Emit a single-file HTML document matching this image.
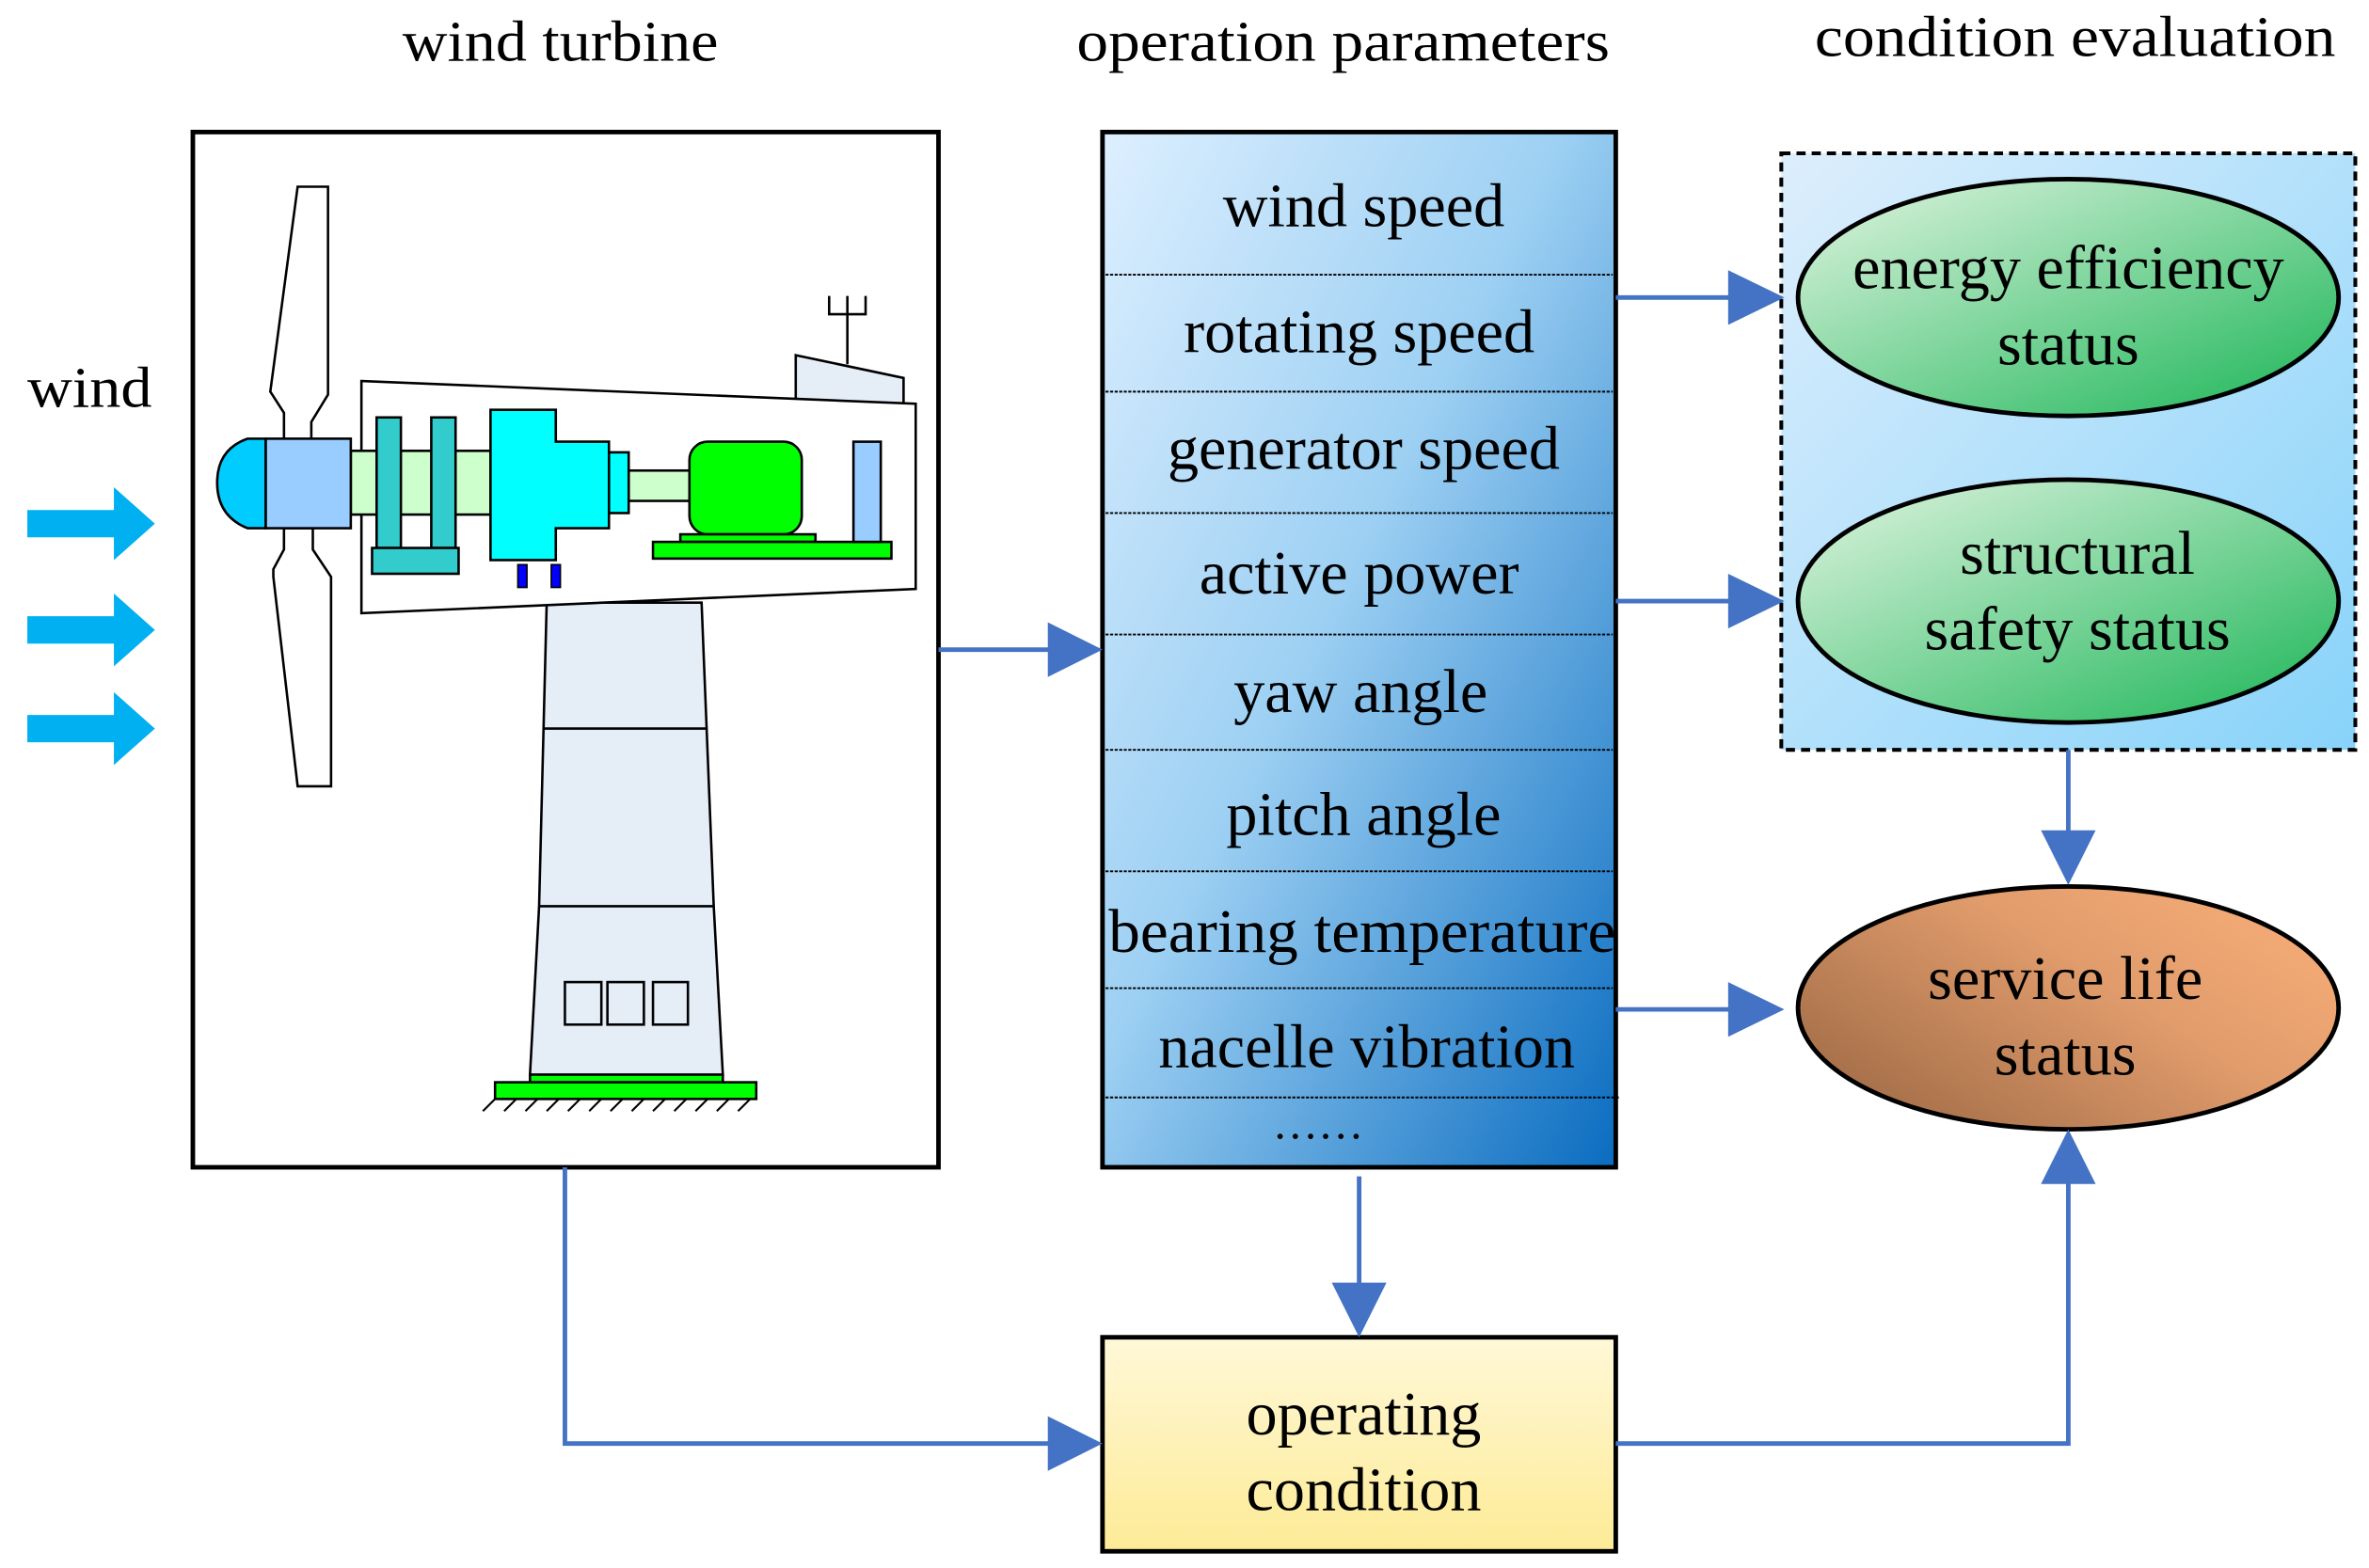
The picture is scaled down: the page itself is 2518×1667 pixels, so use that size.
<!DOCTYPE html>
<html><head><meta charset="utf-8"><style>html,body{margin:0;padding:0;background:#fff}svg{display:block}</style></head><body>
<svg width="2518" height="1667" viewBox="0 0 1560 1033" preserveAspectRatio="none" xmlns="http://www.w3.org/2000/svg" font-family="Liberation Serif, serif">
<defs>
<linearGradient id="gp" x1="0" y1="0" x2="1" y2="1"><stop offset="0" stop-color="#DDEFFF"/><stop offset="0.45" stop-color="#9DD0F3"/><stop offset="1" stop-color="#0A6CC0"/></linearGradient>
<linearGradient id="gd" x1="0" y1="0" x2="1" y2="1"><stop offset="0" stop-color="#DDEEFC"/><stop offset="1" stop-color="#88D3FA"/></linearGradient>
<linearGradient id="gg" x1="0" y1="0" x2="1" y2="1"><stop offset="0" stop-color="#E2F5E2"/><stop offset="1" stop-color="#1AB556"/></linearGradient>
<linearGradient id="gb" x1="0" y1="0.85" x2="1" y2="0.15"><stop offset="0" stop-color="#9E6A45"/><stop offset="0.6" stop-color="#E19C6C"/><stop offset="1" stop-color="#F7AD78"/></linearGradient>
<linearGradient id="gy" x1="0" y1="0" x2="0" y2="1"><stop offset="0" stop-color="#FFF8D8"/><stop offset="1" stop-color="#FDEB96"/></linearGradient>
</defs>
<g font-size="38" fill="#000">
<text x="265" y="40" textLength="208" lengthAdjust="spacingAndGlyphs">wind turbine</text>
<text x="709" y="40" textLength="351" lengthAdjust="spacingAndGlyphs">operation parameters</text>
<text x="1195" y="37" textLength="343" lengthAdjust="spacingAndGlyphs">condition evaluation</text>
<text x="18" y="268" textLength="82" lengthAdjust="spacingAndGlyphs">wind</text>
</g>
<g fill="#00B0F0">
<polygon points="18,336 75,336 75,321 102,345 75,369 75,354 18,354"/>
<polygon points="18,406 75,406 75,391 102,415 75,439 75,424 18,424"/>
<polygon points="18,471 75,471 75,456 102,480 75,504 75,489 18,489"/>
</g>
<rect x="127" y="87" width="491" height="682" fill="#fff" stroke="#000" stroke-width="3"/>
<g stroke="#000" stroke-width="1.6">
<polygon points="360,397 462,397 470,597 476,708 349,708 355,597" fill="#E5EDF7"/>
<line x1="358" y1="480" x2="466" y2="480"/>
<line x1="355" y1="597" x2="470" y2="597"/>
<rect x="372" y="647" width="24" height="28" fill="none"/>
<rect x="400" y="647" width="24" height="28" fill="none"/>
<rect x="430" y="647" width="23" height="28" fill="none"/>
<rect x="349" y="708" width="127" height="5" fill="#00FF00"/>
<rect x="326" y="713" width="172" height="11" fill="#00FF00"/>
</g>
<g stroke="#000" stroke-width="1.3">
<line x1="326" y1="724" x2="318" y2="732"/><line x1="340" y1="724" x2="332" y2="732"/><line x1="354" y1="724" x2="346" y2="732"/><line x1="368" y1="724" x2="360" y2="732"/><line x1="382" y1="724" x2="374" y2="732"/><line x1="396" y1="724" x2="388" y2="732"/><line x1="410" y1="724" x2="402" y2="732"/><line x1="424" y1="724" x2="416" y2="732"/><line x1="438" y1="724" x2="430" y2="732"/><line x1="452" y1="724" x2="444" y2="732"/><line x1="466" y1="724" x2="458" y2="732"/><line x1="480" y1="724" x2="472" y2="732"/><line x1="494" y1="724" x2="486" y2="732"/>
</g>
<g stroke="#000" stroke-width="1.6">
<polygon points="196,123 216,123 216,260 205,278 205,290 187,290 187,272 178,258" fill="#fff"/>
<polygon points="187,348 206,348 206,362 218,380 218,518 196,518 180,380 180,375 187,362" fill="#fff"/>
<polygon points="524,234 595,249 595,266 524,263" fill="#E5EDF7"/>
<line x1="558" y1="195" x2="558" y2="240" fill="none"/>
<polyline points="546,195 546,207 570,207 570,195" fill="none"/>
<polygon points="238,251 603,266 603,388 238,404" fill="#fff"/>
<rect x="231" y="297" width="92" height="42" fill="#CCFFCC"/>
<rect x="248" y="275" width="16" height="86" fill="#33CCCC"/>
<rect x="284" y="275" width="16" height="86" fill="#33CCCC"/>
<rect x="245" y="361" width="57" height="17" fill="#33CCCC"/>
<rect x="414" y="310" width="42" height="20" fill="#CCFFCC"/>
<rect x="401" y="298" width="13" height="40" fill="#00FFFF"/>
<polygon points="323,270 366,270 366,291 401,291 401,348 366,348 366,369 323,369" fill="#00FFFF"/>
<rect x="454" y="291" width="74" height="61" rx="12" fill="#00FF00"/>
<rect x="448" y="352" width="89" height="5" fill="#00FF00"/>
<rect x="430" y="357" width="157" height="11" fill="#00FF00"/>
<rect x="562" y="291" width="18" height="66" fill="#99CCFF"/>
<rect x="341" y="372" width="6" height="15" fill="#0000FF" stroke-width="1"/>
<rect x="363" y="372" width="6" height="15" fill="#0000FF" stroke-width="1"/>
<path d="M175,289 L163,289 Q143,296 143,318 Q143,340 163,348 L175,348 Z" fill="#00CCFF"/>
<rect x="175" y="289" width="56" height="59" fill="#99CCFF"/>
</g>
<rect x="726" y="87" width="338" height="682" fill="url(#gp)" stroke="#000" stroke-width="3"/>
<g stroke="#000" stroke-width="1.2" stroke-dasharray="2,1">
<line x1="728" y1="181" x2="1062" y2="181"/><line x1="728" y1="258" x2="1062" y2="258"/><line x1="728" y1="338" x2="1062" y2="338"/><line x1="728" y1="418" x2="1062" y2="418"/><line x1="728" y1="494" x2="1062" y2="494"/><line x1="728" y1="574" x2="1062" y2="574"/><line x1="728" y1="651" x2="1062" y2="651"/><line x1="728" y1="723" x2="1066" y2="723"/>
</g>
<g font-size="41" text-anchor="middle">
<text x="898" y="149">wind speed</text>
<text x="895" y="232">rotating speed</text>
<text x="898" y="309">generator speed</text>
<text x="895" y="391">active power</text>
<text x="896" y="469">yaw angle</text>
<text x="898" y="550">pitch angle</text>
<text x="730" y="627" text-anchor="start" textLength="334" lengthAdjust="spacingAndGlyphs">bearing temperature</text>
<text x="900" y="703">nacelle vibration</text>
<text x="868" y="750" font-size="30">……</text>
</g>
<rect x="1173" y="101" width="378" height="393" fill="url(#gd)" stroke="#000" stroke-width="2.5" stroke-dasharray="6,4"/>
<ellipse cx="1362" cy="196" rx="178" ry="78" fill="url(#gg)" stroke="#000" stroke-width="3"/>
<ellipse cx="1362" cy="396" rx="178" ry="80" fill="url(#gg)" stroke="#000" stroke-width="3"/>
<ellipse cx="1362" cy="664" rx="178" ry="80" fill="url(#gb)" stroke="#000" stroke-width="3"/>
<g font-size="41" text-anchor="middle">
<text x="1362" y="190">energy efficiency</text>
<text x="1362" y="240">status</text>
<text x="1368" y="378">structural</text>
<text x="1368" y="428">safety status</text>
<text x="1360" y="658">service life</text>
<text x="1360" y="708">status</text>
</g>
<rect x="726" y="881" width="338" height="141" fill="url(#gy)" stroke="#000" stroke-width="3"/>
<g font-size="41" text-anchor="middle">
<text x="898" y="945">operating</text>
<text x="898" y="995">condition</text>
</g>
<g stroke="#4472C4" stroke-width="3" fill="none">
<line x1="618" y1="428" x2="692" y2="428"/>
<line x1="1064" y1="196" x2="1140" y2="196"/>
<line x1="1064" y1="396" x2="1140" y2="396"/>
<line x1="1064" y1="665" x2="1140" y2="665"/>
<line x1="1362" y1="494" x2="1362" y2="548"/>
<line x1="895" y1="775" x2="895" y2="846"/>
<polyline points="372,769 372,951 692,951"/>
<polyline points="1064,951 1362,951 1362,778"/>
</g>
<g fill="#4472C4">
<polygon points="690,410 726,428 690,446"/>
<polygon points="1138,178 1175,196 1138,214"/>
<polygon points="1138,378 1175,396 1138,414"/>
<polygon points="1138,647 1175,665 1138,683"/>
<polygon points="1344,547 1380,547 1362,583"/>
<polygon points="877,845 913,845 895,881"/>
<polygon points="690,933 726,951 690,969"/>
<polygon points="1344,780 1380,780 1362,744"/>
</g>
</svg>
</body></html>
